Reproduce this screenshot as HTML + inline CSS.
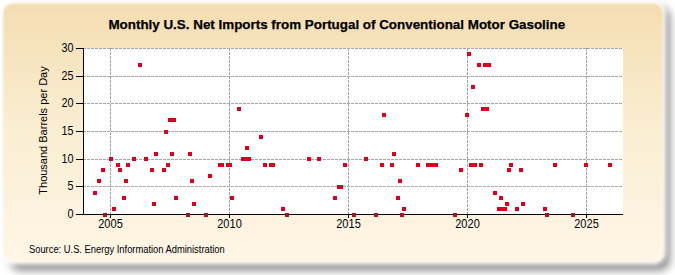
<!DOCTYPE html>
<html><head><meta charset="utf-8"><style>
html,body{margin:0;padding:0;background:#fff;width:675px;height:275px;overflow:hidden}
svg{display:block}
text{font-family:"Liberation Sans",sans-serif;fill:#000}
</style></head><body>
<svg width="675" height="275" viewBox="0 0 675 275">
<defs>
<linearGradient id="bg" x1="0" y1="0" x2="0" y2="1">
<stop offset="0" stop-color="#F5DDB2"/>
<stop offset="0.5" stop-color="#FAEED3"/>
<stop offset="1" stop-color="#FFF6E6"/>
</linearGradient>
<filter id="sh" x="-10%" y="-10%" width="120%" height="125%"><feGaussianBlur stdDeviation="4.5"/></filter>
<filter id="gl" x="-10%" y="-10%" width="120%" height="125%"><feGaussianBlur stdDeviation="2.5"/></filter>
<filter id="pb" x="-2%" y="-2%" width="104%" height="104%"><feGaussianBlur stdDeviation="1"/></filter>
</defs>
<rect x="0" y="0" width="675" height="275" fill="#fff"/>
<rect x="10" y="7" width="660" height="263.5" rx="10" fill="#8a8a8a" filter="url(#sh)"/>
<rect x="0" y="0.5" width="666" height="264" rx="12" fill="#fff" filter="url(#gl)"/>
<rect x="3" y="3.5" width="660" height="258" rx="10" fill="url(#bg)" filter="url(#pb)"/>
<rect x="83" y="48" width="540" height="166" fill="#fff"/>

<line x1="83" y1="48.5" x2="623" y2="48.5" stroke="#A6A6A6" stroke-width="1" stroke-dasharray="3,1"/>
<line x1="83" y1="76.5" x2="623" y2="76.5" stroke="#A6A6A6" stroke-width="1" stroke-dasharray="3,1"/>
<line x1="83" y1="103.5" x2="623" y2="103.5" stroke="#A6A6A6" stroke-width="1" stroke-dasharray="3,1"/>
<line x1="83" y1="131.5" x2="623" y2="131.5" stroke="#A6A6A6" stroke-width="1" stroke-dasharray="3,1"/>
<line x1="83" y1="159.5" x2="623" y2="159.5" stroke="#A6A6A6" stroke-width="1" stroke-dasharray="3,1"/>
<line x1="83" y1="186.5" x2="623" y2="186.5" stroke="#A6A6A6" stroke-width="1" stroke-dasharray="3,1"/>
<line x1="110.5" y1="48" x2="110.5" y2="214" stroke="#A6A6A6" stroke-width="1" stroke-dasharray="3,1"/>
<line x1="229.5" y1="48" x2="229.5" y2="214" stroke="#A6A6A6" stroke-width="1" stroke-dasharray="3,1"/>
<line x1="348.5" y1="48" x2="348.5" y2="214" stroke="#A6A6A6" stroke-width="1" stroke-dasharray="3,1"/>
<line x1="467.5" y1="48" x2="467.5" y2="214" stroke="#A6A6A6" stroke-width="1" stroke-dasharray="3,1"/>
<line x1="586.5" y1="48" x2="586.5" y2="214" stroke="#A6A6A6" stroke-width="1" stroke-dasharray="3,1"/>
<rect x="83" y="48" width="1" height="167" fill="#000"/>
<rect x="76" y="214" width="547" height="1" fill="#000"/>
<rect x="76" y="48" width="7" height="1" fill="#000"/>
<text transform="translate(73.6,52) scale(0.9,1)" font-size="12" text-anchor="end">30</text>
<rect x="76" y="76" width="7" height="1" fill="#000"/>
<text transform="translate(73.6,80) scale(0.9,1)" font-size="12" text-anchor="end">25</text>
<rect x="76" y="103" width="7" height="1" fill="#000"/>
<text transform="translate(73.6,107) scale(0.9,1)" font-size="12" text-anchor="end">20</text>
<rect x="76" y="131" width="7" height="1" fill="#000"/>
<text transform="translate(73.6,135) scale(0.9,1)" font-size="12" text-anchor="end">15</text>
<rect x="76" y="159" width="7" height="1" fill="#000"/>
<text transform="translate(73.6,163) scale(0.9,1)" font-size="12" text-anchor="end">10</text>
<rect x="76" y="186" width="7" height="1" fill="#000"/>
<text transform="translate(73.6,190) scale(0.9,1)" font-size="12" text-anchor="end">5</text>
<rect x="76" y="214" width="7" height="1" fill="#000"/>
<text transform="translate(73.6,218) scale(0.9,1)" font-size="12" text-anchor="end">0</text>
<rect x="110" y="214" width="1" height="4" fill="#000"/>
<text transform="translate(110.5,228) scale(0.92,1)" font-size="12" text-anchor="middle">2005</text>
<rect x="229" y="214" width="1" height="4" fill="#000"/>
<text transform="translate(229.5,228) scale(0.92,1)" font-size="12" text-anchor="middle">2010</text>
<rect x="348" y="214" width="1" height="4" fill="#000"/>
<text transform="translate(348.5,228) scale(0.92,1)" font-size="12" text-anchor="middle">2015</text>
<rect x="467" y="214" width="1" height="4" fill="#000"/>
<text transform="translate(467.5,228) scale(0.92,1)" font-size="12" text-anchor="middle">2020</text>
<rect x="586" y="214" width="1" height="4" fill="#000"/>
<text transform="translate(586.5,228) scale(0.92,1)" font-size="12" text-anchor="middle">2025</text>
<rect x="93" y="191" width="4" height="4" fill="#D8001C"/>
<rect x="97" y="179" width="4" height="4" fill="#D8001C"/>
<rect x="101" y="168" width="4" height="4" fill="#D8001C"/>
<rect x="103" y="213" width="4" height="4" fill="#A8141E"/>
<rect x="109" y="157" width="4" height="4" fill="#D8001C"/>
<rect x="112" y="207" width="4" height="4" fill="#D8001C"/>
<rect x="116" y="163" width="4" height="4" fill="#D8001C"/>
<rect x="118" y="168" width="4" height="4" fill="#D8001C"/>
<rect x="122" y="196" width="4" height="4" fill="#D8001C"/>
<rect x="124" y="179" width="4" height="4" fill="#D8001C"/>
<rect x="126" y="163" width="4" height="4" fill="#D8001C"/>
<rect x="132" y="157" width="4" height="4" fill="#D8001C"/>
<rect x="138" y="63" width="4" height="4" fill="#D8001C"/>
<rect x="144" y="157" width="4" height="4" fill="#D8001C"/>
<rect x="150" y="168" width="4" height="4" fill="#D8001C"/>
<rect x="152" y="202" width="4" height="4" fill="#D8001C"/>
<rect x="154" y="152" width="4" height="4" fill="#D8001C"/>
<rect x="162" y="168" width="4" height="4" fill="#D8001C"/>
<rect x="164" y="130" width="4" height="4" fill="#D8001C"/>
<rect x="166" y="163" width="4" height="4" fill="#D8001C"/>
<rect x="168" y="118" width="4" height="4" fill="#D8001C"/>
<rect x="170" y="152" width="4" height="4" fill="#D8001C"/>
<rect x="172" y="118" width="4" height="4" fill="#D8001C"/>
<rect x="174" y="196" width="4" height="4" fill="#D8001C"/>
<rect x="186" y="213" width="4" height="4" fill="#A8141E"/>
<rect x="188" y="152" width="4" height="4" fill="#D8001C"/>
<rect x="190" y="179" width="4" height="4" fill="#D8001C"/>
<rect x="192" y="202" width="4" height="4" fill="#D8001C"/>
<rect x="204" y="213" width="4" height="4" fill="#A8141E"/>
<rect x="208" y="174" width="4" height="4" fill="#D8001C"/>
<rect x="218" y="163" width="4" height="4" fill="#D8001C"/>
<rect x="220" y="163" width="4" height="4" fill="#D8001C"/>
<rect x="226" y="163" width="4" height="4" fill="#D8001C"/>
<rect x="228" y="163" width="4" height="4" fill="#D8001C"/>
<rect x="230" y="196" width="4" height="4" fill="#D8001C"/>
<rect x="237" y="107" width="4" height="4" fill="#D8001C"/>
<rect x="241" y="157" width="4" height="4" fill="#D8001C"/>
<rect x="243" y="157" width="4" height="4" fill="#D8001C"/>
<rect x="245" y="146" width="4" height="4" fill="#D8001C"/>
<rect x="247" y="157" width="4" height="4" fill="#D8001C"/>
<rect x="259" y="135" width="4" height="4" fill="#D8001C"/>
<rect x="263" y="163" width="4" height="4" fill="#D8001C"/>
<rect x="269" y="163" width="4" height="4" fill="#D8001C"/>
<rect x="271" y="163" width="4" height="4" fill="#D8001C"/>
<rect x="281" y="207" width="4" height="4" fill="#D8001C"/>
<rect x="285" y="213" width="4" height="4" fill="#A8141E"/>
<rect x="307" y="157" width="4" height="4" fill="#D8001C"/>
<rect x="317" y="157" width="4" height="4" fill="#D8001C"/>
<rect x="333" y="196" width="4" height="4" fill="#D8001C"/>
<rect x="337" y="185" width="4" height="4" fill="#D8001C"/>
<rect x="339" y="185" width="4" height="4" fill="#D8001C"/>
<rect x="343" y="163" width="4" height="4" fill="#D8001C"/>
<rect x="352" y="213" width="4" height="4" fill="#A8141E"/>
<rect x="364" y="157" width="4" height="4" fill="#D8001C"/>
<rect x="374" y="213" width="4" height="4" fill="#A8141E"/>
<rect x="380" y="163" width="4" height="4" fill="#D8001C"/>
<rect x="382" y="113" width="4" height="4" fill="#D8001C"/>
<rect x="390" y="163" width="4" height="4" fill="#D8001C"/>
<rect x="392" y="152" width="4" height="4" fill="#D8001C"/>
<rect x="396" y="196" width="4" height="4" fill="#D8001C"/>
<rect x="398" y="179" width="4" height="4" fill="#D8001C"/>
<rect x="400" y="213" width="4" height="4" fill="#A8141E"/>
<rect x="402" y="207" width="4" height="4" fill="#D8001C"/>
<rect x="416" y="163" width="4" height="4" fill="#D8001C"/>
<rect x="426" y="163" width="4" height="4" fill="#D8001C"/>
<rect x="430" y="163" width="4" height="4" fill="#D8001C"/>
<rect x="434" y="163" width="4" height="4" fill="#D8001C"/>
<rect x="453" y="213" width="4" height="4" fill="#A8141E"/>
<rect x="459" y="168" width="4" height="4" fill="#D8001C"/>
<rect x="465" y="113" width="4" height="4" fill="#D8001C"/>
<rect x="467" y="52" width="4" height="4" fill="#D8001C"/>
<rect x="469" y="163" width="4" height="4" fill="#D8001C"/>
<rect x="471" y="85" width="4" height="4" fill="#D8001C"/>
<rect x="473" y="163" width="4" height="4" fill="#D8001C"/>
<rect x="477" y="63" width="4" height="4" fill="#D8001C"/>
<rect x="479" y="163" width="4" height="4" fill="#D8001C"/>
<rect x="481" y="107" width="4" height="4" fill="#D8001C"/>
<rect x="483" y="63" width="4" height="4" fill="#D8001C"/>
<rect x="485" y="107" width="4" height="4" fill="#D8001C"/>
<rect x="487" y="63" width="4" height="4" fill="#D8001C"/>
<rect x="493" y="191" width="4" height="4" fill="#D8001C"/>
<rect x="497" y="207" width="4" height="4" fill="#D8001C"/>
<rect x="499" y="196" width="4" height="4" fill="#D8001C"/>
<rect x="501" y="207" width="4" height="4" fill="#D8001C"/>
<rect x="503" y="207" width="4" height="4" fill="#D8001C"/>
<rect x="505" y="202" width="4" height="4" fill="#D8001C"/>
<rect x="507" y="168" width="4" height="4" fill="#D8001C"/>
<rect x="509" y="163" width="4" height="4" fill="#D8001C"/>
<rect x="515" y="207" width="4" height="4" fill="#D8001C"/>
<rect x="519" y="168" width="4" height="4" fill="#D8001C"/>
<rect x="521" y="202" width="4" height="4" fill="#D8001C"/>
<rect x="543" y="207" width="4" height="4" fill="#D8001C"/>
<rect x="545" y="213" width="4" height="4" fill="#A8141E"/>
<rect x="553" y="163" width="4" height="4" fill="#D8001C"/>
<rect x="571" y="213" width="4" height="4" fill="#A8141E"/>
<rect x="584" y="163" width="4" height="4" fill="#D8001C"/>
<rect x="608" y="163" width="4" height="4" fill="#D8001C"/>
<text x="336.8" y="29" font-size="13.4" font-weight="bold" text-anchor="middle" stroke="#000" stroke-width="0.25">Monthly U.S. Net Imports from Portugal of Conventional Motor Gasoline</text>
<text transform="translate(46.5,130.5) rotate(-90)" font-size="11" text-anchor="middle">Thousand Barrels per Day</text>
<text transform="translate(29,253) scale(0.935,1)" font-size="10">Source: U.S. Energy Information Administration</text>
</svg></body></html>
